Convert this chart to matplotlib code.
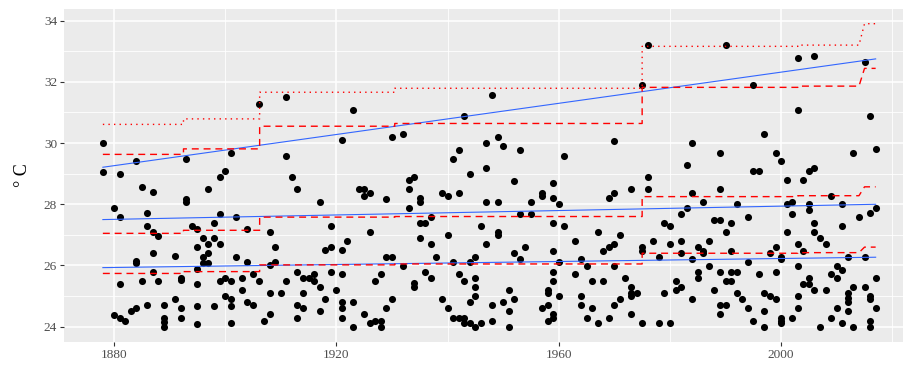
import matplotlib
matplotlib.use("Agg")
import matplotlib.pyplot as plt
import numpy as np

# ---- observed points (year, value) ----
point_years = (
    [1878]*2 + [1880]*2 + [1881]*4 + [1882] + [1883] + [1884]*4 + [1885]*2 + [1886]*3 +
    [1887]*4 + [1888]*2 + [1889]*4 + [1891]*2 + [1892]*4 + [1893]*3 + [1894] + [1895]*6 +
    [1896]*3 + [1897]*4 + [1898]*3 + [1899]*4 + [1900]*3 + [1901]*5 + [1902]*2 + [1903]*2 +
    [1904]*3 + [1905]*2 + [1906]*2 + [1907] + [1908]*4 + [1909]*2 + [1910] + [1911]*3 +
    [1912] + [1913]*4 + [1914]*3 + [1915] + [1916]*2 + [1917]*3 + [1918]*2 + [1919]*3 +
    [1920] + [1921]*6 + [1922] + [1923]*3 + [1924] + [1925]*3 + [1926]*3 + [1927]*2 +
    [1928]*3 + [1929]*3 + [1930]*3 + [1932]*2 + [1933]*3 + [1934]*3 + [1935]*4 + [1936]*2 +
    [1937]*3 + [1938] + [1939]*2 + [1940]*3 + [1941]*3 + [1942]*4 + [1943]*4 + [1944]*4 +
    [1945]*5 + [1946]*2 + [1947]*4 + [1948]*3 + [1949]*4 + [1950]*2 + [1951]*3 + [1952]*3 +
    [1953]*3 + [1954] + [1955]*2 + [1957]*3 + [1958]*4 + [1959]*8 + [1960]*3 + [1961]*2 +
    [1963]*2 + [1964]*3 + [1965]*2 + [1966]*2 + [1967]*2 + [1968]*2 + [1969]*3 + [1970]*5 +
    [1971]*2 + [1972] + [1973]*5 + [1974] + [1975]*4 + [1976]*3 + [1977] + [1978]*2 +
    [1979]*2 + [1980]*3 + [1981]*2 + [1982]*4 + [1983]*2 + [1984]*4 + [1985]*3 + [1986]*3 +
    [1987]*2 + [1988]*2 + [1989]*6 + [1990]*4 + [1991]*4 + [1992]*3 + [1993] + [1994]*3 +
    [1995]*3 + [1996]*2 + [1997]*4 + [1998]*2 + [1999]*4 + [2000]*6 + [2001]*3 + [2002]*3 +
    [2003]*6 + [2004]*3 + [2005]*5 + [2006]*5 + [2007]*2 + [2008]*2 + [2009]*3 + [2010]*3 +
    [2011]*4 + [2012]*5 + [2013]*3 + [2014] + [2015]*3 + [2016]*6 + [2017]*4
)
point_values = [
    29.99, 29.07, 27.89, 24.38, 28.98, 27.58, 25.4, 24.3, 24.19, 24.5, 29.4, 26.16, 26.08, 24.6,
    28.58, 25.5, 27.7, 27.28, 24.7, 28.4, 27.08, 26.4, 25.8, 26.97, 25.49, 24.71, 24.3, 24.16, 24.0,
    26.31, 24.89, 25.6, 25.51, 24.6, 24.3, 29.48, 28.17, 28.09, 27.3, 27.19, 26.6, 25.9, 25.41,
    24.69, 24.09, 26.89, 26.29, 26.09, 28.49, 26.69, 26.4, 26.09, 27.38, 26.89, 24.69,
    28.88, 27.68, 26.69, 25.5, 29.09, 25.6, 25.0, 29.69, 25.5, 24.89, 24.69, 24.11, 27.58, 26.29,
    25.6, 25.2, 27.19, 26.1, 24.82, 25.71, 24.71, 31.28, 25.5, 24.2, 27.08, 26.0, 25.11, 24.4,
    26.6, 26.12, 25.11, 31.49, 29.58, 25.5, 28.88, 28.49, 25.8, 24.71, 24.3, 25.6, 25.11, 24.6,
    25.6, 25.71, 25.5, 28.09, 25.31, 24.51, 26.49, 24.89, 27.3, 26.6, 25.8, 25.2,
    30.1, 26.49, 25.71, 24.82, 24.6, 24.3, 26.8, 31.09, 24.82, 24.0, 28.49, 28.49, 28.28, 24.4,
    28.38, 27.08, 24.11, 25.5, 24.2, 25.71, 24.2, 24.0, 28.18, 26.29, 24.6, 30.2, 26.29, 24.89,
    30.29, 25.99, 28.79, 28.49, 27.89, 28.88, 25.42, 25.31, 28.19, 28.09, 27.39, 26.89,
    27.39, 25.8, 27.58, 26.69, 25.6, 26.29, 28.38, 24.9, 28.28, 27.0, 24.6, 29.48, 26.1, 24.3,
    29.77, 28.38, 25.71, 24.3, 30.88, 25.5, 24.3, 24.11, 28.98, 26.1, 24.82, 24.11,
    26.29, 25.6, 25.3, 25.0, 24.0, 27.3, 24.11, 29.99, 29.17, 28.09, 26.69, 31.57, 24.71, 24.2,
    30.2, 28.09, 27.1, 27.0, 29.9, 24.82, 25.2, 24.51, 24.0, 28.77, 26.4, 24.9,
    29.77, 27.68, 26.2, 26.6, 28.09, 27.68, 28.38, 28.28, 24.6, 25.2, 25.09, 24.71, 24.2,
    28.69, 28.19, 27.39, 26.48, 25.8, 25.5, 24.4, 24.3, 28.0, 26.1, 25.0, 29.58, 27.29,
    26.8, 25.71, 26.2, 25.0, 24.71, 25.99, 24.3, 25.5, 24.6, 27.08, 24.11, 26.48, 25.5,
    28.19, 26.6, 24.3, 30.08, 28.38, 26.69, 25.99, 24.71, 27.0, 24.9, 25.6,
    28.49, 25.31, 25.11, 25.0, 24.4, 25.11, 31.91, 26.6, 26.48, 24.11, 33.19, 28.88, 28.49,
    26.8, 26.29, 24.11, 27.39, 25.11, 27.29, 26.69, 24.11, 25.5, 25.2, 27.68, 26.8, 26.4, 25.31,
    29.28, 27.89, 29.99, 28.38, 26.2, 24.9, 26.6, 25.8, 25.6, 28.09, 26.48, 26.4,
    26.8, 25.99, 27.48, 25.2, 29.69, 28.49, 27.48, 25.8, 24.71, 24.4, 33.19, 27.08, 25.5, 24.71,
    27.39, 26.48, 25.8, 25.5, 28.0, 25.8, 25.11, 24.9, 27.58, 26.1, 24.6,
    31.91, 29.09, 24.2, 29.09, 25.71, 30.29, 25.11, 24.51, 24.0, 26.4, 25.0,
    29.69, 26.6, 25.8, 24.9, 29.4, 26.29, 26.2, 24.3, 24.2, 24.11, 28.79, 28.0, 27.08,
    28.09, 27.68, 24.3, 32.77, 31.09, 26.69, 25.99, 25.0, 24.6, 28.79, 26.48, 25.41,
    29.09, 28.0, 27.8, 25.6, 25.41, 32.86, 29.17, 27.39, 27.08, 25.2, 26.89, 24.0, 26.69, 25.2,
    28.28, 25.71, 24.3, 25.99, 25.6, 24.6, 28.0, 27.29, 25.85, 24.11,
    26.29, 25.11, 24.93, 24.82, 24.51, 29.69, 25.31, 24.0, 27.58, 32.66, 26.29, 25.31,
    30.88, 27.7, 25.0, 24.89, 24.2, 24.0, 29.8, 27.89, 25.6, 24.6,
]

# ---- linear quantile trend lines (end points) ----
trend_years = [1878, 2017]
trend_upper = [29.21, 32.75]
trend_mid = [27.50, 28.00]
trend_lower = [25.93, 26.27]

# ---- piecewise-constant (step) lines ----
seg_start = [1878, 1892.5, 1906.2, 1930.5, 1975.0, 2003.0, 2015.0]
seg_end = [1892.5, 1906.2, 1930.5, 1975.0, 2003.0, 2014.0, 2017.0]
step_top_dotted = [30.61, 30.79, 31.66, 31.79, 33.16, 33.20, 33.90]
step_upper = [29.63, 29.81, 30.55, 30.64, 31.82, 31.86, 32.44]
step_mid = [27.05, 27.15, 27.58, 27.60, 28.25, 28.28, 28.57]
step_lower = [25.74, 25.80, 26.02, 26.05, 26.40, 26.42, 26.60]

x_ticks = [1880, 1920, 1960, 2000]
x_minor = [1900, 1940, 1980, 2020]
y_ticks = [24, 26, 28, 30, 32, 34]
y_minor = [25, 27, 29, 31, 33]

plt.rcParams['font.family'] = ['Liberation Serif', 'DejaVu Serif']

W, H = 904, 365
fig = plt.figure(figsize=(W / 100, H / 100), dpi=100)
left, right, top, bottom = 64, 904, 9, 341.7
ax = fig.add_axes([left / W, (H - bottom) / H, (right - left) / W, (bottom - top) / H])
ax.set_facecolor('#EBEBEB')
for s in ax.spines.values():
    s.set_visible(False)

ax.set_xlim(1871.01, 2022.10)
ax.set_ylim(23.51, 34.38)

for v in x_ticks:
    ax.axvline(v, color='white', lw=1.1, zorder=0.5)
for v in x_minor:
    ax.axvline(v, color='white', lw=0.6, zorder=0.5)
for v in y_ticks:
    ax.axhline(v, color='white', lw=1.1, zorder=0.5)
for v in y_minor:
    ax.axhline(v, color='white', lw=0.6, zorder=0.5)


def step_path(starts, ends, levels):
    xs, ys = [], []
    for a, b, l in zip(starts, ends, levels):
        xs += [a, b]
        ys += [l, l]
    return xs, ys


ax.scatter(point_years, point_values, s=26, color='black', zorder=3, linewidths=0)

for lv in (trend_upper, trend_mid, trend_lower):
    ax.plot(trend_years, lv, color='#3366FF', lw=0.8, zorder=4)

xs, ys = step_path(seg_start, seg_end, step_top_dotted)
ax.plot(xs, ys, color='red', lw=1.0, linestyle=(0, (1, 3)), zorder=5)
for lv in (step_upper, step_mid, step_lower):
    xs, ys = step_path(seg_start, seg_end, lv)
    ax.plot(xs, ys, color='red', lw=1.0, linestyle=(0, (5, 3.5)), zorder=5)

ax.set_xticks(x_ticks)
ax.set_yticks(y_ticks)
ax.set_xticklabels([str(v) for v in x_ticks])
ax.set_yticklabels([str(v) for v in y_ticks])
ax.tick_params(axis='both', length=3, width=0.8, color='#333333', labelcolor='#4D4D4D',
               labelsize=9.5, pad=2.0)
ax.set_ylabel('° C', fontsize=13, color='black', labelpad=9)

fig.savefig('out.png', dpi=100)
